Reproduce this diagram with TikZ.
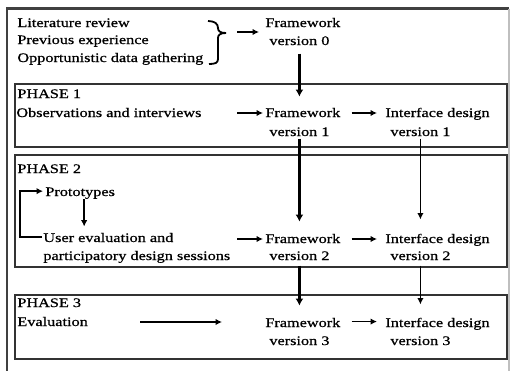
\documentclass[tikz,border=0pt]{standalone}
\usepackage{fontspec}
\setmainfont{Liberation Serif}[FakeStretch=1.25,FakeBold=0.8]
\usetikzlibrary{arrows.meta,calc}
\begin{document}
\begin{tikzpicture}[x=0.5pt,y=-0.5pt,
  txt/.style={anchor=base west, inner sep=0pt, font=\fontsize{6.5}{8}\selectfont},
  phasebox/.style={draw=black!80, line width=0.9pt},
  frameline/.style={draw=black!75, line width=1.1pt},
  thk/.style={line width=1.5pt, -{Latex[length=3.5pt,width=4pt]}},
  thn/.style={line width=0.9pt, -{Latex[length=3.2pt,width=3.2pt]}},
  bracepath/.style={line width=0.9pt}]
\useasboundingbox (0,0) rectangle (512,370);
\fill[white] (0,0) rectangle (512,370);
% outer frame
\draw[frameline] (7,380) -- (7,8.5) -- (509,8.5);
\draw[black!25, line width=0.6pt] (509,8.5) -- (509,380);
% phase boxes
\draw[phasebox] (15,84) rectangle (507,147);
\draw[phasebox] (15,155) rectangle (507,267);
\draw[phasebox] (15,295) rectangle (507,359);
% phase 0
\node[txt] (lit)  at (17,27) {Literature review};
\node[txt] (prev) at (17,44) {Previous experience};
\node[txt] (opp)  at (17,62) {Opportunistic data gathering};
\node[txt] (fw0a) at (265,27) {Framework};
\node[txt] (fw0b) at (269,45) {version 0};
% phase 1
\node[txt] (ph1) at (17,98) {PHASE 1};
\node[txt] (obs) at (16,117) {Observations and interviews};
\node[txt] (fw1a) at (265,117) {Framework};
\node[txt] (fw1b) at (269,136) {version 1};
\node[txt] (if1a) at (385,117) {Interface design};
\node[txt] (if1b) at (390,136) {version 1};
% phase 2
\node[txt] (ph2) at (17,173) {PHASE 2};
\node[txt] (proto) at (45,196) {Prototypes};
\node[txt] (user) at (43,242) {User evaluation and};
\node[txt] (part) at (43,260) {participatory design sessions};
\node[txt] (fw2a) at (265,243) {Framework};
\node[txt] (fw2b) at (269,260) {version 2};
\node[txt] (if2a) at (385,243) {Interface design};
\node[txt] (if2b) at (390,260) {version 2};
% phase 3
\node[txt] (ph3) at (17,307) {PHASE 3};
\node[txt] (eval) at (17,326) {Evaluation};
\node[txt] (fw3a) at (265,327) {Framework};
\node[txt] (fw3b) at (269,345) {version 3};
\node[txt] (if3a) at (385,327) {Interface design};
\node[txt] (if3b) at (390,345) {version 3};
% brace
\draw[bracepath] (208,21) .. controls (215,21) and (218,24) .. (218,28)
  .. controls (218,31) and (220,33) .. (226,33)
  .. controls (220,33) and (218,35) .. (218,38) -- (218,59)
  .. controls (218,63) and (215,64) .. (209,64);
\coordinate (brtip) at (237,32);
\draw[thn] (brtip) -- ($(brtip -| fw0a.west)+(-6,0)$);
% coordinates for free arrow ends
\coordinate (a1) at (237,113);
\coordinate (a2) at (237,239);
\coordinate (evend) at (222,322);
% horizontal arrows
\draw[thn] (a1) -- ($(a1 -| fw1a.west)+(-2,0)$);
\draw[thn] (a2) -- ($(a2 -| fw2a.west)+(-2,0)$);
\draw[thn] ($(eval.east |- evend)+(52,0)$) -- (evend);
\draw[thn, shorten <=5.5pt, shorten >=4pt] (fw1a.east |- a1) -- (a1 -| if1a.west);
\draw[thn, shorten <=5.5pt, shorten >=4pt] (fw2a.east |- a2) -- (a2 -| if2a.west);
\draw[thn, shorten <=5.5pt, shorten >=4pt] ($(fw3a.east)+(0,-1)$) -- ($(fw3a.east -| if3a.west)+(0,-1)$);
% vertical framework arrows
\draw[thk] ($(fw0b.south)+(0,8)$) -- ($(fw0b.south |- fw1a.north)+(0,-11)$);
\draw[thk] ($(fw1b.south)+(0,2)$) -- ($(fw1b.south |- fw2a.north)+(0,-12)$);
\draw[thk] ($(fw2b.south)+(0,5)$) -- ($(fw2b.south |- fw3a.north)+(0,-12)$);
% vertical interface arrows
\draw[thn] ($(if1b.south)+(0,2)$) -- ($(if1b.south |- if2a.north)+(0,-14)$);
\draw[thn] ($(if2b.south)+(0,5)$) -- ($(if2b.south |- if3a.north)+(0,-13)$);
% phase 2 loop
\draw[thn] ($(user.base west)+(-1,-5)$) -- ++(-22,0) |- ($(proto.west)+(-2,-2)$);
\draw[thn] ($(proto.south)+(4,0)$) -- ($(proto.south |- user.north)+(4,-6)$);
\end{tikzpicture}
\end{document}
